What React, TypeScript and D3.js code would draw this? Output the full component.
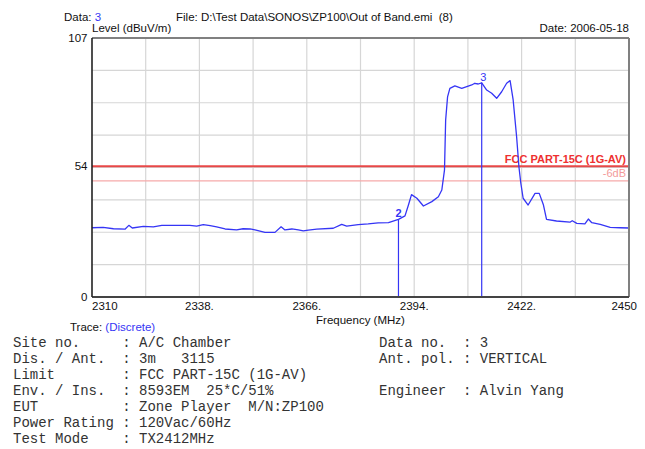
import React from "react";
import * as d3 from "d3";

// ---- data ----
const freqs = [
  2310.0, 2312.9, 2315.6, 2318.6, 2319.6, 2320.5, 2323.4, 2326.0, 2328.2, 2332.1,
  2335.5, 2337.3, 2339.0, 2340.8, 2342.5, 2344.7, 2347.7, 2349.4, 2351.2, 2352.5,
  2355.1, 2357.7, 2359.3, 2360.3, 2362.1, 2363.8, 2365.1, 2366.4, 2368.6, 2372.9,
  2375.1, 2376.4, 2379.4, 2382.0, 2384.6, 2387.3, 2389.9, 2391.6, 2392.5, 2393.3,
  2394.7, 2396.4, 2398.6, 2400.3, 2401.2, 2401.9, 2402.2, 2402.7, 2403.3, 2404.6,
  2406.4, 2407.7, 2409.0, 2409.8, 2410.7, 2411.6, 2412.9, 2414.2, 2415.5, 2416.8,
  2418.1, 2419.0, 2419.8, 2420.7, 2421.3, 2421.8, 2422.4, 2423.7, 2425.5, 2426.6,
  2427.7, 2428.5, 2431.1, 2434.6, 2435.2, 2436.4, 2438.5, 2439.4, 2440.3, 2442.5,
  2445.1, 2447.7, 2450.0,
];
const levels = [
  28.6, 28.8, 28.2, 28.0, 29.6, 28.5, 29.2, 29.0, 29.6, 29.6,
  29.6, 29.3, 29.9, 29.5, 29.0, 28.1, 27.7, 28.2, 28.1, 27.7,
  26.7, 26.7, 29.0, 27.7, 28.1, 27.7, 27.3, 27.6, 28.0, 28.4,
  30.0, 29.3, 29.9, 30.2, 30.6, 30.7, 32.1, 33.5, 38.0, 42.3,
  40.8, 37.6, 39.4, 41.4, 44.2, 52.5, 73.1, 82.7, 86.2, 87.2,
  86.2, 86.9, 87.6, 88.3, 88.0, 88.5, 85.5, 84.2, 82.1, 84.8,
  88.3, 89.4, 81.4, 66.2, 53.8, 47.0, 40.8, 38.0, 42.8, 42.8,
  38.0, 32.1, 31.4, 30.9, 31.5, 30.4, 30.2, 32.2, 30.7, 30.0,
  28.8, 28.6, 28.5,
];
const markerIds = ["2", "3"];
const markerFreqs = [2389.9, 2411.6];
const markerLevels = [32.1, 88.5];

const limitLevel = 54;
const limitMargin = 6;
const limitName = "FCC PART-15C (1G-AV)";

const xTickValues = [2310, 2338, 2366, 2394, 2422, 2450];
const xTickLabels = ["2310", "2338.", "2366.", "2394.", "2422.", "2450"];
const yTickValues = [107, 54, 0];
const yTickLabels = ["107", "54", "0"];
const xGridCount = 10;
const yGridCount = 8;

const infoLeft = [
  "Site no.     : A/C Chamber",
  "Dis. / Ant.  : 3m   3115",
  "Limit        : FCC PART-15C (1G-AV)",
  "Env. / Ins.  : 8593EM  25*C/51%",
  "EUT          : Zone Player  M/N:ZP100",
  "Power Rating : 120Vac/60Hz",
  "Test Mode    : TX2412MHz",
];
const infoRight = [
  "Data no.  : 3",
  "Ant. pol. : VERTICAL",
  "",
  "Engineer  : Alvin Yang",
];

const W = 645;
const H = 449;
const L = 92, R = 629, T = 38, B = 297;
const blue = "#3535f5";
const sans = "'Liberation Sans', Arial, sans-serif";
const mono = "'Liberation Mono', 'Courier New', monospace";

export default function App() {
  const x = d3.scaleLinear().domain([2310, 2450]).range([L, R]);
  const y = d3.scaleLinear().domain([0, 107]).range([B, T]);
  const pts = freqs.map((f, i) => [f, levels[i]] as [number, number]);
  const line = d3
    .line<[number, number]>()
    .x((d) => x(d[0]))
    .y((d) => y(d[1]));

  const xGrid = d3.range(1, xGridCount).map((i) => 2310 + (i * 140) / xGridCount);
  const yGrid = d3.range(1, yGridCount).map((i) => (i * 107) / yGridCount);

  return (
    <svg
      width={W}
      height={H}
      style={{ position: "absolute", left: 0, top: 0, background: "#fff" }}
    >
      <rect x={0} y={0} width={W} height={H} fill="#fff" />
      {/* header */}
      <text x={64} y={20.5} fontFamily={sans} fontSize={11.5} fill="#111">
        Data: <tspan fill={blue}>3</tspan>
      </text>
      <text x={176} y={20.5} fontFamily={sans} fontSize={11.5} fill="#111">
        {"File: D:\\Test Data\\SONOS\\ZP100\\Out of Band.emi\u00a0\u00a0(8)"}
      </text>
      <text x={92} y={31.5} fontFamily={sans} fontSize={11.5} fill="#111">
        Level (dBuV/m)
      </text>
      <text x={629} y={32} textAnchor="end" fontFamily={sans} fontSize={11.5} fill="#111">
        Date: 2006-05-18
      </text>

      {/* grid */}
      {xGrid.map((g, i) => (
        <line key={"xg" + i} x1={x(g)} x2={x(g)} y1={T} y2={B} stroke="#d6d6d6" strokeWidth={1.2} />
      ))}
      {yGrid.map((g, i) => (
        <line key={"yg" + i} x1={L} x2={R} y1={y(g)} y2={y(g)} stroke="#d6d6d6" strokeWidth={1.2} />
      ))}

      {/* limit lines */}
      <line x1={L} x2={R} y1={y(limitLevel)} y2={y(limitLevel)} stroke="#e84848" strokeWidth={2} />
      <line
        x1={L}
        x2={R}
        y1={y(limitLevel - limitMargin)}
        y2={y(limitLevel - limitMargin)}
        stroke="#f6aaaa"
        strokeWidth={1.2}
      />
      <text
        x={626}
        y={y(limitLevel) - 3.5}
        textAnchor="end"
        fontFamily={sans}
        fontSize={11}
        fontWeight="bold"
        fill="#ee3030"
      >
        {limitName}
      </text>
      <text
        x={626}
        y={y(limitLevel - limitMargin) - 3.5}
        textAnchor="end"
        fontFamily={sans}
        fontSize={11}
        fill="#f39a9a"
      >
        -6dB
      </text>

      {/* trace */}
      <path d={line(pts) || ""} fill="none" stroke={blue} strokeWidth={1.3} strokeLinejoin="round" />

      {/* markers */}
      {markerIds.map((id, i) => (
        <g key={"m" + id}>
          <line
            x1={x(markerFreqs[i])}
            x2={x(markerFreqs[i])}
            y1={y(markerLevels[i])}
            y2={B}
            stroke={blue}
            strokeWidth={1.2}
          />
          <text
            x={x(markerFreqs[i]) + (i === 1 ? 1.5 : 0)}
            y={y(markerLevels[i]) - 2}
            textAnchor="middle"
            fontFamily={sans}
            fontSize={11}
            fontWeight={i === 0 ? "bold" : "normal"}
            fill={blue}
          >
            {id}
          </text>
        </g>
      ))}

      {/* frame */}
      <line x1={L} x2={R} y1={T} y2={T} stroke="#808080" strokeWidth={2} />
      <line x1={R} x2={R} y1={T} y2={B} stroke="#808080" strokeWidth={2} />
      <line x1={L} x2={R} y1={B} y2={B} stroke="#444" strokeWidth={1.8} />
      <line x1={L} x2={L} y1={T} y2={B} stroke="#222" strokeWidth={1.6} />

      {/* y tick labels */}
      {yTickValues.map((v, i) => (
        <text
          key={"yt" + i}
          x={87.5}
          y={y(v) + 4}
          textAnchor="end"
          fontFamily={sans}
          fontSize={11.5}
          fill="#111"
        >
          {yTickLabels[i]}
        </text>
      ))}
      {/* x tick labels */}
      {xTickValues.map((v, i) => (
        <text
          key={"xt" + i}
          x={i === 0 ? x(v) : i === xTickValues.length - 1 ? x(v) + 8 : x(v)}
          y={310}
          textAnchor={i === 0 ? "start" : i === xTickValues.length - 1 ? "end" : "middle"}
          fontFamily={sans}
          fontSize={11.5}
          fill="#111"
        >
          {xTickLabels[i]}
        </text>
      ))}
      <text x={(L + R) / 2} y={324} textAnchor="middle" fontFamily={sans} fontSize={11.5} fill="#111">
        Frequency (MHz)
      </text>
      <text x={70} y={331} fontFamily={sans} fontSize={11.5} fill="#111">
        Trace: <tspan fill={blue}>(Discrete)</tspan>
      </text>

      {/* info block */}
      {infoLeft.map((s, i) => (
        <text
          key={"il" + i}
          x={13}
          y={347 + i * 16}
          fontFamily={mono}
          fontSize={14}
          fill="#333"
          style={{ whiteSpace: "pre" }}
        >
          {s}
        </text>
      ))}
      {infoRight.map((s, i) => (
        <text
          key={"ir" + i}
          x={379}
          y={347 + i * 16}
          fontFamily={mono}
          fontSize={14}
          fill="#333"
          style={{ whiteSpace: "pre" }}
        >
          {s}
        </text>
      ))}
    </svg>
  );
}
